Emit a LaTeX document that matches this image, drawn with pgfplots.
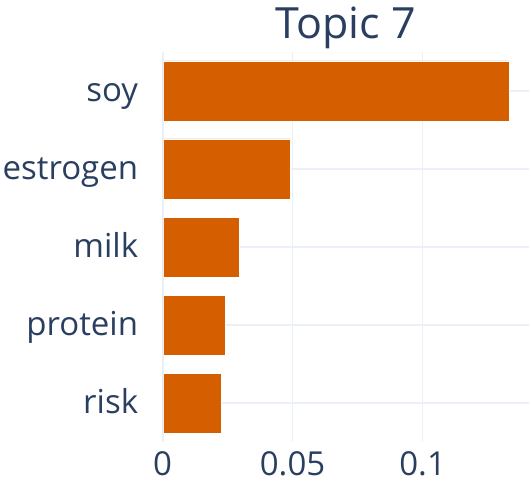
\documentclass[border=0pt]{standalone}
\usepackage{pgfplots}
\pgfplotsset{compat=1.18}
\usepackage{fontspec}
\setmainfont{Open Sans}
\definecolor{barorange}{HTML}{D55E00}
\definecolor{plotlytext}{HTML}{2A3F5F}
\definecolor{plotlygrid}{HTML}{EBF0F8}

\begin{document}
\begin{tikzpicture}
  \useasboundingbox (-81.25pt,-20pt) rectangle (183.25pt,221pt);
  \begin{axis}[
      at={(0,0)}, anchor=south west,
      scale only axis,
      width=183.25pt, height=195pt,
      xbar, bar width=30pt,
      xmin=0, xmax=0.1409,
      ymin=-0.5, ymax=4.5,
      ytick={0,1,2,3,4},
      yticklabels={risk,protein,milk,estrogen,soy},
      xtick={0,0.05,0.1},
      xticklabels={0,0.05,0.1},
      axis line style={draw=none},
      major tick length=0pt,
      grid=major,
      grid style={plotlygrid, line width=0.6pt},
      tick label style={font=\fontsize{16.5}{20}\selectfont, text=plotlytext},
      yticklabel style={inner sep=0pt, anchor=base east, xshift=-12pt, yshift=-5.2pt},
      xticklabel style={inner sep=0pt, yshift=-4.8pt},
      /pgf/number format/assume math mode=true,
      title={Topic 7},
      title style={font=\fontsize{21.5}{25}\selectfont, text=plotlytext,
                   at={(0.5,1)}, anchor=base, yshift=0.5pt},
    ]
    \addplot[fill=barorange, draw=white, line width=0.25pt] coordinates {
      (0.0227,0) (0.0243,1) (0.0295,2) (0.0492,3) (0.1332,4)
    };
    \draw[plotlygrid, line width=1.2pt] (axis cs:0,-0.5) -- (axis cs:0,4.5);
  \end{axis}
\end{tikzpicture}
\end{document}
